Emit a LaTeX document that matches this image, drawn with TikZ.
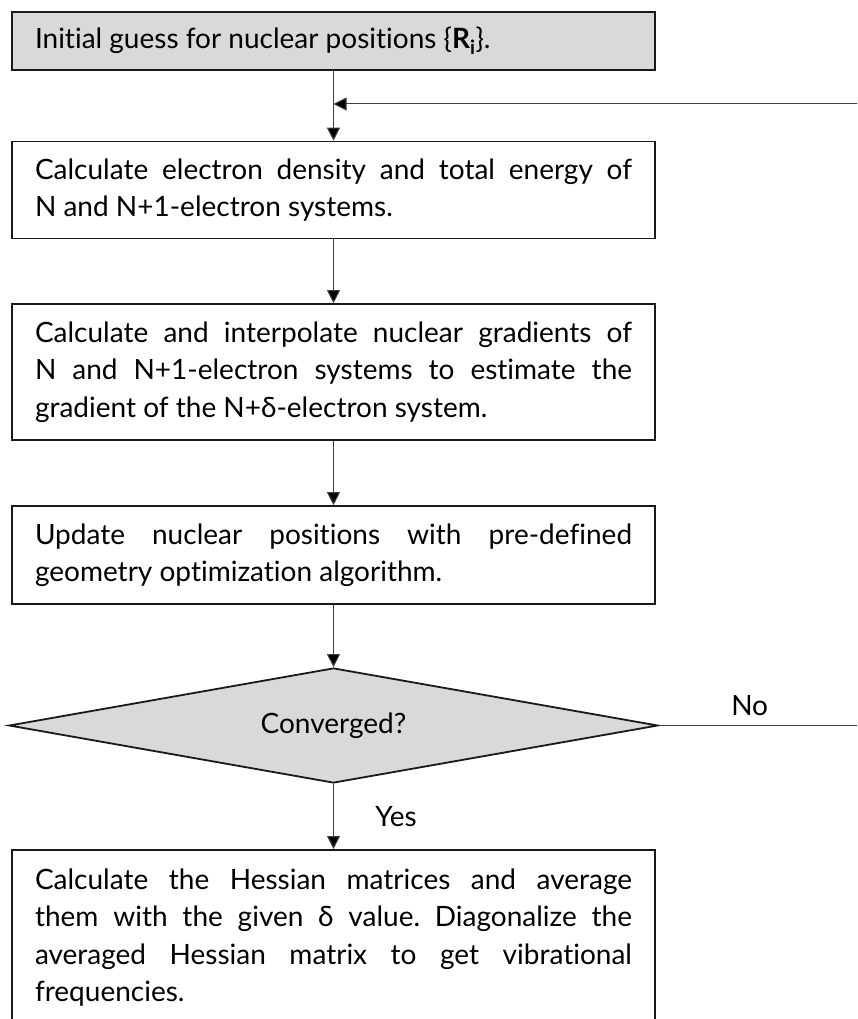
\documentclass[tikz,border=0pt]{standalone}
\usepackage{fontspec}
\setmainfont{Lato}[Ligatures=NoCommon]
\usepackage{xcolor}
\usetikzlibrary{positioning, shapes.geometric, arrows.meta}

\definecolor{boxgray}{HTML}{D9D9D9}

\begin{document}
\frenchspacing
\begin{tikzpicture}[x=1pt, y=1pt,
    txt/.style={font=\fontsize{28}{37.5}\selectfont},
    stepbox/.style={txt, draw=black!90, line width=1.6pt, text width=597pt,
      align=justify, inner xsep=23pt, inner ysep=0pt},
    decide/.style={txt, diamond, draw=black!90, line width=1.8pt, fill=boxgray,
      aspect=5.6, inner sep=0pt, minimum width=649pt, minimum height=115pt},
    flow/.style={draw=black!75, line width=1pt,
      -{Triangle[width=13pt,length=13pt,fill=black]}}]

  % Fix the page and cut the bottom box
  \useasboundingbox (0,0) rectangle (857,-1019);
  \clip (0,0) rectangle (857,-1019);

  % Steps of the loop
  \node[stepbox, fill=boxgray, minimum height=58pt] (init) at (333.5,-41)
    {Initial guess for nuclear positions \{\textbf{R\textsubscript{i}}\}.};
  \node[stepbox, minimum height=97pt] (dens) at (333.5,-190)
    {Calculate electron density and total energy of\linebreak
     N and N+1-electron systems.};
  \node[stepbox, minimum height=136pt] (grad) at (333.5,-372)
    {Calculate and interpolate nuclear gradients of\linebreak
     N and N+1-electron systems to estimate the\linebreak
     gradient of the N+δ-electron system.};
  \node[stepbox, minimum height=98pt] (upd) at (333.5,-555)
    {Update nuclear positions with pre-defined\linebreak
     geometry optimization algorithm.};
  \node[decide] (conv) at (333.5,-725.5) {Converged?};
  \node[stepbox, anchor=north, minimum height=176pt] (hess) at (333.5,-849)
    {Calculate the Hessian matrices and average\linebreak
     them with the given δ value. Diagonalize the\linebreak
     averaged Hessian matrix to get vibrational\linebreak
     frequencies.};

  % Arrows down the chart
  \draw[flow] (init) -- (dens);
  \draw[flow] (dens) -- (grad);
  \draw[flow] (grad) -- (upd);
  \draw[flow] (upd) -- (conv);
  \draw[flow] (conv) -- node[txt, right=38pt] (yes) {Yes} (hess);

  % Loop back when not converged
  \coordinate (merge) at (333.5,-104);
  \coordinate (loopin) at (870,-104);
  \draw[flow] (conv.east) -- node[txt, pos=0.43, above=6pt] (no) {No}
    (conv.east -| loopin) -- (loopin) -- (merge);

\end{tikzpicture}
\end{document}
